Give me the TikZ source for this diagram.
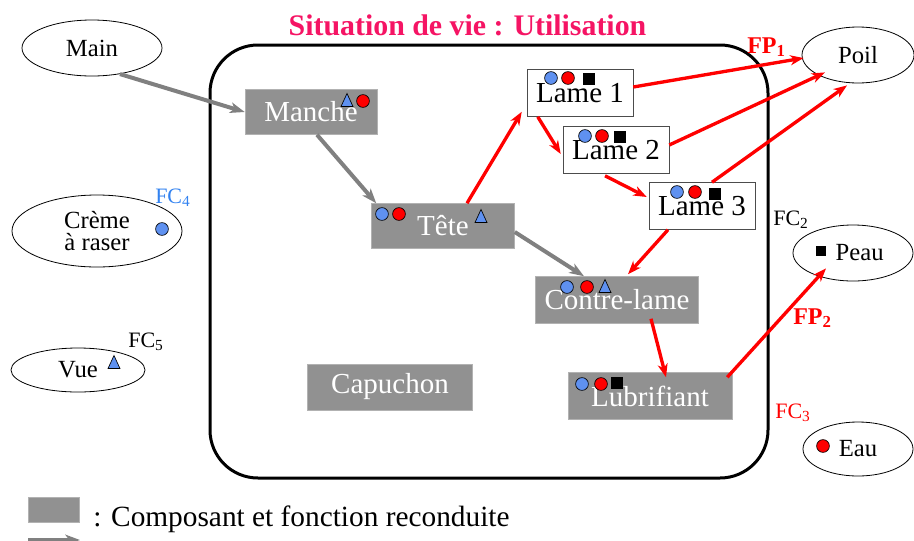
\documentclass[tikz,border=0pt]{standalone}
\usepackage{fontspec}
\setmainfont{Liberation Serif}
\usetikzlibrary{shapes.geometric}
\usetikzlibrary{arrows.meta}
\usetikzlibrary{calc}
\definecolor{titre}{RGB}{245,20,100}
\definecolor{gris}{RGB}{145,145,145}
\definecolor{flux}{RGB}{128,128,128}
\definecolor{bleu}{RGB}{95,145,240}
\definecolor{bleufc}{RGB}{50,130,240}

\tikzset{
  composant/.style={fill=gris, draw=gris!70!white, text=white, inner sep=0pt, font=\fontsize{21.75}{22}\selectfont},
  lame/.style={fill=white, draw=black!70, inner sep=0pt, minimum width=79.5pt, minimum height=35.25pt, font=\fontsize{21.75}{22}\selectfont},
  milieu/.style={ellipse, draw, line width=0.6pt, inner sep=0pt, font=\fontsize{18.5}{16.5}\selectfont},
  fc/.style={anchor=base west, inner sep=0pt, font=\fontsize{16.5}{17}\selectfont},
  fp/.style={fc, text=red, font=\bfseries\fontsize{18}{18}\selectfont},
  grisfleche/.style={flux, line width=3pt, -{Stealth[length=11pt,width=8pt,inset=3pt]}},
  rougefleche/.style={red, line width=2.5pt, -{Stealth[length=10pt,width=7.5pt,inset=3pt]}},
}

\begin{document}
\begin{tikzpicture}[x=0.75pt, y=-0.75pt]

	\useasboundingbox (0,0) rectangle (914,540);

	\node[anchor=base, text=titre, font=\bfseries\fontsize{22.4}{23}\selectfont] (titre) at (467.5,35) {Situation de vie : Utilisation};

	\draw[line width=2.25pt, rounded corners=36pt] (210,45) rectangle (768,478);

	% milieux exterieurs
	\node[milieu, minimum width=105pt, minimum height=42pt] (main) at (92,48) {Main};
	\node[milieu, minimum width=127.5pt, minimum height=54pt, align=center] (creme) at (97,231) {Crème\\à raser};
	\node[milieu, minimum width=100.5pt, minimum height=33pt] (vue) at (78,370) {Vue};
	\node[milieu, minimum width=84pt, minimum height=42pt] (poil) at (858,55) {Poil};
	\node[milieu, minimum width=90pt, minimum height=42pt] (peau) at (853,253) {\hspace*{10pt}Peau};
	\node[milieu, minimum width=82.5pt, minimum height=40.5pt] (eau) at (858,449) {Eau};

	% composants
	\node[composant, minimum width=99pt, minimum height=33.75pt] (manche) at (311,112) {Manche};
	\node[composant, minimum width=107.25pt, minimum height=33.75pt] (tete) at (443,226) {Tête};
	\node[composant, minimum width=122.25pt, minimum height=35.25pt] (contre) at (617,300) {Contre-lame};
	\node[composant, minimum width=123pt, minimum height=35.25pt] (lubri) at (650,396) {Lubrifiant};
	\node[composant, minimum width=123.75pt, minimum height=34.5pt] (capuchon) at (390,387) {Capuchon};
	\node[lame] (lame1) at (580,93) {Lame 1};
	\node[lame] (lame2) at (616,150) {Lame 2};
	\node[lame] (lame3) at (702,206) {Lame 3};

	\draw[grisfleche] (main.-43) -- (manche.west);
	\draw[grisfleche] ($(manche.south)+(6,0)$) -- ($(tete.north west)+(5,0)$);
	\draw[grisfleche] ($(tete.east)+(0,6)$) -- ($(contre.north)+(-33,0)$);

	\draw[rougefleche] ($(tete.north)+(24,0)$) -- ($(lame1.south west)+(-5,-5)$);
	\draw[rougefleche] ($(lame1.south west)+(11,0)$) -- ($(lame2.west)+(-2,4)$);
	\draw[rougefleche] ($(lame2.south)+(-11,2)$) -- ($(lame3.west)+(-2,-9)$);
	\draw[rougefleche] ($(lame3.south)+(-34,0)$) -- ($(contre.north)+(11,-2)$);
	\draw[rougefleche] ($(contre.south)+(34,-5)$) -- ($(lubri.north)+(16,5)$);
	\draw[rougefleche] ($(lame1.east)+(0,-6)$) -- ($(poil.west)+(2,3)$);
	\draw[rougefleche] ($(lame2.east)+(0,-5)$) -- ($(poil.south)+(-33,-11)$);
	\draw[rougefleche] ($(lame3.north)+(10,0)$) -- ($(poil.south)+(-11,2)$);
	\draw[rougefleche] ($(lubri.north east)+(-5,5)$) -- ($(peau.south)+(-27,-13)$);

	% symboles des fonctions
	\foreach \x/\y in {162/229, 382/214, 551/78, 585/136, 677/192, 567/287, 582/384}
		\filldraw[fill=bleu, draw=black, line width=0.5pt] (\x,\y) circle (4.8pt);
	\foreach \x/\y in {363/101, 399/214, 568/78, 602/136, 695/192, 587/287, 601/384, 823/446}
		\filldraw[fill=red, draw=black, line width=0.5pt] (\x,\y) circle (4.8pt);
	\foreach \x/\y in {347/100, 481/216, 605/286, 114/362}
		\filldraw[fill=bleu, draw=black, line width=0.5pt] (\x,\y) ++(-6,6.5) -- ++(12,0) -- ++(-6,-13) -- cycle;
	\foreach \x/\y/\s in {589/79/6, 620/137/6, 715/194/6, 617/383/6, 821/251/5}
		\fill (\x,\y) ++(-\s,-\s) rectangle ++(2*\s,2*\s);

	\node[fc, text=bleufc] (fc4) at (155,203) {FC\textsubscript{4}};
	\node[fc] (fc5) at (128,347) {FC\textsubscript{5}};
	\node[fc] (fc2) at (773,225) {FC\textsubscript{2}};
	\node[fc, text=red] (fc3) at (775,418) {FC\textsubscript{3}};
	\node[fp] (fp1) at (747,53) {FP\textsubscript{1}};
	\node[fp] (fp2) at (793,324) {FP\textsubscript{2}};

	% legende
	\node[composant, minimum width=38.25pt, minimum height=18.75pt] (legcomp) at (53.5,509.5) {};
	\node[anchor=base west, inner sep=0pt, font=\fontsize{22}{23}\selectfont] (legende) at (93,526) {: Composant et fonction reconduite};
	\coordinate (legdebut) at (28,540);
	\coordinate (legfin) at (80,540);
	\draw[grisfleche] (legdebut) -- (legfin);

\end{tikzpicture}
\end{document}
